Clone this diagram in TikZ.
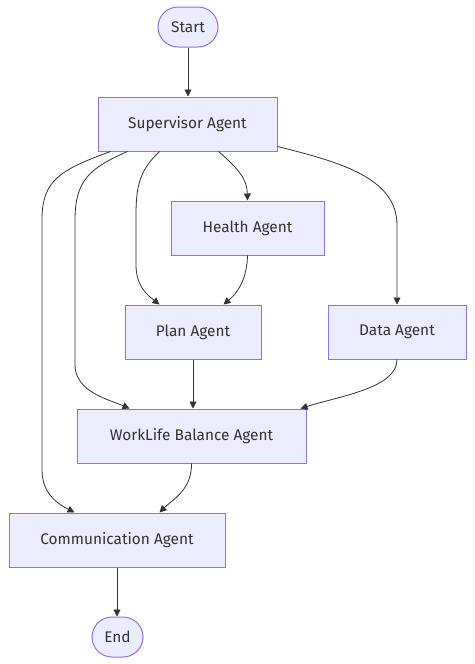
\documentclass[tikz,border=0pt]{standalone}
\usepackage{fontspec}
\setmainfont{Fira Sans}
\usetikzlibrary{arrows.meta}
\definecolor{nodefill}{HTML}{ECECFF}
\definecolor{nodeline}{HTML}{9370DB}
\definecolor{edgecol}{HTML}{333333}
\tikzset{
  agent/.style={draw=nodeline, fill=nodefill, line width=1pt, minimum height=54pt, inner sep=0pt, text=edgecol, font=\fontsize{15.4}{17}\selectfont},
  term/.style={agent, rounded corners=20pt, minimum height=40pt},
  flow/.style={draw=edgecol, line width=0.8pt, -{Triangle[length=7pt,width=7pt]}},
}
\begin{document}
\begin{tikzpicture}[x=1pt,y=-1pt]
\useasboundingbox[fill=white] (0,0) rectangle (474,664);
\node[term, minimum width=60pt] (start) at (188,27) {\raisebox{-1pt}{Start}};
\node[agent, minimum width=179pt] (sup) at (187.5,124) {\raisebox{-1pt}{Supervisor Agent}};
\node[agent, minimum width=153pt] (health) at (247.5,228) {\raisebox{-1pt}{Health Agent}};
\node[agent, minimum width=136pt] (plan) at (193,332) {\raisebox{-1pt}{Plan Agent}};
\node[agent, minimum width=138pt] (data) at (397,332) {\raisebox{-1pt}{Data Agent}};
\node[agent, minimum width=229pt] (wlb) at (191.5,436) {\raisebox{-1pt}{WorkLife Balance Agent}};
\node[agent, minimum width=216pt] (comm) at (117,540) {\raisebox{-1pt}{Communication Agent}};
\node[term, minimum width=51pt] (end) at (117.5,637) {\raisebox{-1pt}{End}};

\draw[flow] (start.south) -- (start.south |- sup.north);
\draw[flow] ([xshift=13pt]sup.south west) .. controls (60,170) and (42,180) .. (42,220) -- (42,470) .. controls (42,495) and (60,505) .. ([xshift=66pt]comm.north west);
\draw[flow] ([xshift=30pt]sup.south west) .. controls (90,168) and (75,180) .. (75,220) -- (75,365) .. controls (75,392) and (110,400) .. ([xshift=53pt]wlb.north west);
\draw[flow] ([xshift=62pt]sup.south west) .. controls (140,170) and (136,185) .. (136,215) -- (136,265) .. controls (136,288) and (150,297) .. ([xshift=35pt]plan.north west);
\draw[flow] ([xshift=121pt]sup.south west) .. controls (240,170) and (247,180) .. (health.north);
\draw[flow] ([yshift=5pt]sup.south east) .. controls (340,162) and (397,178) .. (397,225) -- (data.north);
\draw[flow] (health.south) .. controls (247,282) and (235,295) .. ([xshift=99pt]plan.north west);
\draw[flow] (plan.south) -- (plan.south |- wlb.north);
\draw[flow] (data.south) .. controls (397,388) and (340,396) .. ([xshift=224pt]wlb.north west);
\draw[flow] (wlb.south) .. controls (192,490) and (172,500) .. ([xshift=151pt]comm.north west);
\draw[flow] (comm.south) -- (comm.south |- end.north);
\end{tikzpicture}
\end{document}
